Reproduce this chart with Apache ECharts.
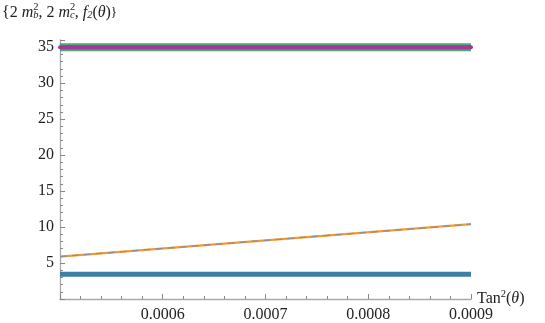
<!DOCTYPE html>
<html>
<head>
<meta charset="utf-8">
<script src="https://cdn.jsdelivr.net/npm/echarts@6/dist/echarts.min.js"></script>
<style>
  html, body { margin: 0; padding: 0; background: #fff; }
  #chart { width: 545px; height: 323px; }
</style>
</head>
<body>
<div id="chart"></div>
<script>
// 数据：x 是 Tan^2(θ)
var xVals = [0.0005, 0.0009];
var mb2 = [35, 35];        // 2 m_b^2
var mbOverlay = [35, 35];  // 同一条线的叠加
var mc2 = [3.45, 3.45];    // 2 m_c^2
var f2 = [5.9, 10.4];      // f_2(θ)
var f2Overlay = [5.9, 10.4];
var xTicks = [0.0005, 0.0006, 0.0007, 0.0008, 0.0009];

function pairs(ys) {
    return xVals.map(function (x, i) { return [x, ys[i]]; });
}

var serif = 'Liberation Serif, serif';

// 先让字体加载一次，否则第一次绘制会用后备字体
var warm = document.createElement('canvas').getContext('2d');
['normal', 'italic'].forEach(function (s) {
    warm.font = s + ' 16px Liberation Serif';
    warm.fillText('0.0006 Tan θ', 0, 10);
});

var option = {
    animation: false,
    textStyle: { fontFamily: serif },
    grid: { left: 60, right: 74, top: 40, bottom: 23 },
    xAxis: {
        type: 'value',
        min: 0.0005,
        max: 0.0009,
        interval: 0.0001,
        axisLine: { onZero: false, lineStyle: { color: '#aaaaaa', width: 1.3 } },
        axisTick: { inside: true, length: 5, lineStyle: { color: '#888' } },
        minorTick: { show: true, splitNumber: 5, length: 3, lineStyle: { color: '#888' } },
        splitLine: { show: false },
        axisLabel: {
            fontFamily: serif, fontSize: 16, color: '#222', margin: 8,
            formatter: function (v) {
                if (Math.abs(v - xTicks[0]) < 1e-9) return '';
                return v.toFixed(4);
            }
        },
        name: '{n|Tan}{s|2}{n|(}{i|θ}{n|)}',
        nameLocation: 'end',
        nameGap: 6,
        nameTextStyle: {
            fontFamily: serif,
            rich: {
                n: { fontFamily: serif, fontSize: 16, color: '#222' },
                i: { fontFamily: serif, fontSize: 16, fontStyle: 'italic', color: '#222' },
                s: { fontFamily: serif, fontSize: 10.5, color: '#222', padding: [0, 0, 9, 0] }
            }
        }
    },
    yAxis: {
        type: 'value',
        min: 0,
        max: 36,
        interval: 5,
        axisLine: { show: true, lineStyle: { color: '#aaaaaa', width: 1.3 } },
        axisTick: { show: true, inside: true, length: 5, lineStyle: { color: '#888' } },
        minorTick: { show: true, splitNumber: 5, length: 3, lineStyle: { color: '#888' } },
        splitLine: { show: false },
        axisLabel: {
            fontFamily: serif, fontSize: 16, color: '#222', margin: 6,
            formatter: function (v) { return v === 0 ? '' : String(v); }
        }
    },
    graphic: [{
        type: 'text',
        left: 2,
        top: 2,
        style: {
            fontFamily: serif,
            // 上标的宽度设得很小，让下标叠在它下面
            text: '{n|{2 }{i|m}{s|2}{b|b}{n|, 2 }{i|m}{s|2}{b|c}{n|, }{i|f}{b|2}{n|(}{i|θ}{n|)}}',
            rich: {
                n: { fontFamily: serif, fontSize: 16, fill: '#222' },
                i: { fontFamily: serif, fontSize: 16, fontStyle: 'italic', fill: '#222' },
                s: { fontFamily: serif, fontSize: 10.5, fill: '#222', width: 0.01, padding: [0, 0, 10, 0] },
                b: { fontFamily: serif, fontSize: 10.5, fontStyle: 'italic', fill: '#222', padding: [6, 0, 0, 0] }
            }
        }
    }],
    series: [
        {
            name: '2 m_c^2', type: 'line', data: pairs(mc2), symbol: 'none',
            lineStyle: { color: '#3f7fa1', width: 5 }
        },
        {
            name: 'f_2', type: 'line', data: pairs(f2), symbol: 'none',
            lineStyle: { color: '#f39a35', width: 2.2 }
        },
        {
            name: 'f_2 overlay', type: 'line', data: pairs(f2Overlay), symbol: 'none',
            lineStyle: { color: '#8f8f8f', width: 1.3, type: [7, 5] }
        },
        {
            name: '2 m_b^2', type: 'line', data: pairs(mb2), symbol: 'none',
            lineStyle: { color: '#3f9a72', width: 8, opacity: 0.9 }
        },
        {
            name: '2 m_b^2 overlay', type: 'line', data: pairs(mbOverlay), symbol: 'none',
            lineStyle: { color: '#9c3a94', width: 4, cap: 'round' }
        }
    ]
};

var chart = echarts.init(document.getElementById('chart'));
chart.setOption(option);
// 再画一次，确保用的是加载好的字体
setTimeout(function () { chart.setOption(option, true); }, 30);
window.onresize = chart.resize;
</script>
</body>
</html>
